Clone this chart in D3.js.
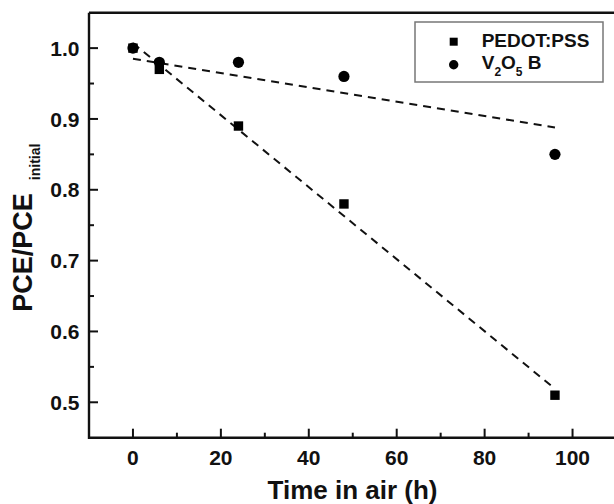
<!DOCTYPE html>
<html><head><meta charset="utf-8">
<script src="https://cdn.jsdelivr.net/npm/d3@7"></script>
<style>body{margin:0;background:#fff}svg{display:block}text{font-family:"Liberation Sans",Arial,sans-serif;font-weight:bold;fill:#111}</style>
</head><body><svg id="c" width="614" height="504"></svg>
<script>
const timeH = [0, 6, 24, 48, 96];
const pedot = [1.0, 0.97, 0.89, 0.78, 0.51];
const v2o5 = [1.0, 0.98, 0.98, 0.96, 0.85];
const fitX = [0, 96];
const pedotFit = [1.007, 0.519];
const v2o5Fit = [0.985, 0.888];
const xTicks = [0, 20, 40, 60, 80, 100];
const yTicks = [0.5, 0.6, 0.7, 0.8, 0.9, 1.0];
const seriesNames = ["PEDOT:PSS", "V2O5 B"];

const svg = d3.select("#c");
const L = 89, R = 616.5, T = 12.7, B = 437.7;
const x = d3.scaleLinear().domain([-10, 110]).range([L, R]);
const y = d3.scaleLinear().domain([0.45, 1.05]).range([B, T]);

// frame
svg.append("path").attr("d", `M${L},${T}H${R}M${L},${T}V${B}H${R}`)
  .attr("fill","none").attr("stroke","#111").attr("stroke-width",2.4);

// x ticks
const xMinor = [10, 30, 50, 70, 90];
const gx = svg.append("g");
gx.selectAll("line.M").data(xTicks).join("line").attr("x1",d=>x(d)).attr("x2",d=>x(d))
  .attr("y1",B).attr("y2",B-9).attr("stroke","#111").attr("stroke-width",2);
gx.selectAll("line.m").data(xMinor).join("line").attr("x1",d=>x(d)).attr("x2",d=>x(d))
  .attr("y1",B).attr("y2",B-5).attr("stroke","#111").attr("stroke-width",2);
gx.selectAll("text").data(xTicks).join("text").attr("x",d=>x(d)).attr("y",465)
  .attr("text-anchor","middle").attr("font-size",21).text(d=>d);

// y ticks
const yMinor = [0.55,0.65,0.75,0.85,0.95];
const gy = svg.append("g");
gy.selectAll("line.M").data(yTicks).join("line").attr("y1",d=>y(d)).attr("y2",d=>y(d))
  .attr("x1",L).attr("x2",L+9).attr("stroke","#111").attr("stroke-width",2);
gy.selectAll("line.m").data(yMinor).join("line").attr("y1",d=>y(d)).attr("y2",d=>y(d))
  .attr("x1",L).attr("x2",L+5).attr("stroke","#111").attr("stroke-width",2);
gy.selectAll("text").data(yTicks).join("text").attr("x",79.5).attr("y",d=>y(d)+7.7)
  .attr("text-anchor","end").attr("font-size",21).text(d=>d.toFixed(1));

// axis titles
svg.append("text").attr("x",352.5).attr("y",499).attr("text-anchor","middle").attr("font-size",26)
  .text("Time in air (h)");
const yt = svg.append("text").attr("transform","translate(32,311.7) rotate(-90)")
  .attr("font-size",27);
yt.append("tspan").text("PCE/PCE");
yt.append("tspan").attr("font-size",14).attr("dx",13).attr("dy",8).text("initial");

// fit lines
const line = d3.line().x(d=>x(d[0])).y(d=>y(d[1]));
[pedotFit, v2o5Fit].forEach(f => {
  svg.append("path").attr("d", line(fitX.map((t,i)=>[t,f[i]])))
    .attr("fill","none").attr("stroke","#111").attr("stroke-width",2).attr("stroke-dasharray","8,6");
});

// markers
svg.append("g").selectAll("rect").data(timeH.map((t,i)=>[t,pedot[i]])).join("rect")
  .attr("x",d=>x(d[0])-4.7).attr("y",d=>y(d[1])-4.7).attr("width",9.4).attr("height",9.4).attr("fill","#000");
svg.append("g").selectAll("circle").data(timeH.map((t,i)=>[t,v2o5[i]])).join("circle")
  .attr("cx",d=>x(d[0])).attr("cy",d=>y(d[1])).attr("r",5.6).attr("fill","#000");

// legend
const lg = svg.append("g");
lg.append("rect").attr("x",415).attr("y",22).attr("width",188).attr("height",60)
  .attr("fill","#fff").attr("stroke","#777").attr("stroke-width",1.5);
lg.append("rect").attr("x",449.7).attr("y",37.7).attr("width",8).attr("height",8).attr("fill","#000");
lg.append("circle").attr("cx",453.7).attr("cy",64.7).attr("r",4.7).attr("fill","#000");
lg.append("text").attr("x",481.7).attr("y",47).attr("font-size",19).text(seriesNames[0]);
const t2 = lg.append("text").attr("x",481.7).attr("y",68.5).attr("font-size",19);
t2.append("tspan").text("V");
t2.append("tspan").attr("font-size",12).attr("dy",7).text("2");
t2.append("tspan").attr("dy",-7).text("O");
t2.append("tspan").attr("font-size",12).attr("dy",7).text("5");
t2.append("tspan").attr("dy",-7).text(" B");
</script></body></html>
